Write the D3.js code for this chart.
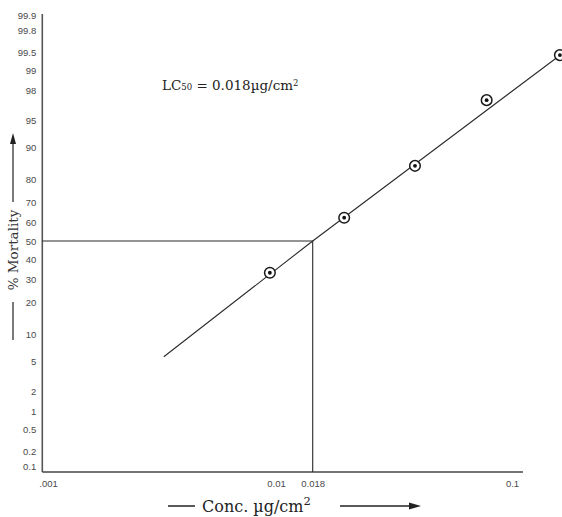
<!DOCTYPE html>
<html>
<head>
<meta charset="utf-8">
<script src="https://cdn.jsdelivr.net/npm/d3@7/dist/d3.min.js"></script>
<style>
  html, body { margin: 0; padding: 0; background: #fff; }
  svg { display: block; }
</style>
</head>
<body>
<svg id="chart" width="562" height="517"></svg>
<script>
// ---------------- data ----------------
const concentrations = [0.0094, 0.0236, 0.0434, 0.0804, 0.151];   // µg/cm²
const mortality      = [33.2, 62.5, 84.8, 97.3, 99.45];            // %
const fitConc        = [0.00322, 0.018, 0.1538];                   // regression line vertices
const fitMortality   = [5.67, 50, 99.48];
const lc50Conc = 0.018;
const lc50Mort = 50;

const yTickValues = [0.1, 0.2, 0.5, 1, 2, 5, 10, 20, 30, 40, 50, 60, 70, 80, 90, 95, 98, 99, 99.5, 99.8, 99.9];
const yTickLabels = ["0.1", "0.2", "0.5", "1", "2", "5", "10", "20", "30", "40", "50", "60", "70", "80", "90", "95", "98", "99", "99.5", "99.8", "99.9"];
const xTickValues = [0.001, 0.01, 0.018, 0.1];
const xTickLabels = [".001", "0.01", "0.018", "0.1"];

// ---------------- helpers ----------------
// inverse standard normal CDF (Acklam)
function probit(pct) {
  const p = pct / 100;
  const a = [-3.969683028665376e+01, 2.209460984245205e+02, -2.759285104469687e+02, 1.383577518672690e+02, -3.066479806614716e+01, 2.506628277459239e+00];
  const b = [-5.447609879822406e+01, 1.615858368580409e+02, -1.556989798598866e+02, 6.680131188771972e+01, -1.328068155288572e+01];
  const c = [-7.784894002430293e-03, -3.223964580411365e-01, -2.400758277161838e+00, -2.549732539343734e+00, 4.374664141464968e+00, 2.938163982698783e+00];
  const d = [7.784695709041462e-03, 3.224671290700398e-01, 2.445134137142996e+00, 3.754408661907416e+00];
  const pl = 0.02425, ph = 1 - pl;
  let q, r;
  if (p < pl) {
    q = Math.sqrt(-2 * Math.log(p));
    return (((((c[0]*q+c[1])*q+c[2])*q+c[3])*q+c[4])*q+c[5]) / ((((d[0]*q+d[1])*q+d[2])*q+d[3])*q+1);
  } else if (p <= ph) {
    q = p - 0.5; r = q * q;
    return (((((a[0]*r+a[1])*r+a[2])*r+a[3])*r+a[4])*r+a[5])*q / (((((b[0]*r+b[1])*r+b[2])*r+b[3])*r+b[4])*r+1);
  } else {
    q = Math.sqrt(-2 * Math.log(1 - p));
    return -(((((c[0]*q+c[1])*q+c[2])*q+c[3])*q+c[4])*q+c[5]) / ((((d[0]*q+d[1])*q+d[2])*q+d[3])*q+1);
  }
}

// ---------------- layout ----------------
const plotLeft = 42.3, plotRight = 523, plotTop = 14, plotBottom = 472;
const svg = d3.select("#chart");
const ink = "#2a2a2a";

// probability (probit) scale on y, piecewise log scale on x (as drawn on the paper)
const yZ = d3.scaleLinear().domain([-3.16, 3.105]).range([plotBottom, plotTop]);
const y = p => yZ(probit(p));
const x = d3.scaleLog().domain(xTickValues).range([48, 276, 312.7, 512]);

// ---------------- axes ----------------
const labelFont = "Liberation Sans, Arial, sans-serif";
const yAxis = d3.axisLeft(yZ)
  .tickValues(yTickValues.map(probit))
  .tickFormat((d, i) => yTickLabels[i])
  .tickSize(0).tickPadding(6);
const gy = svg.append("g").attr("transform", `translate(${plotLeft},0)`).call(yAxis);
gy.select(".domain").remove();
gy.selectAll("text").attr("font-family", labelFont).attr("font-size", 9.5).attr("fill", "#4a4a4a");

const xAxis = d3.axisBottom(x)
  .tickValues(xTickValues)
  .tickFormat((d, i) => xTickLabels[i])
  .tickSize(0).tickPadding(8);
const gx = svg.append("g").attr("transform", `translate(0,${plotBottom})`).call(xAxis);
gx.select(".domain").remove();
gx.selectAll("text").attr("font-family", labelFont).attr("font-size", 9.5).attr("fill", "#4a4a4a");

svg.append("line").attr("x1", plotLeft).attr("x2", plotLeft).attr("y1", plotTop).attr("y2", plotBottom)
  .attr("stroke", "#555").attr("stroke-width", 1.6);
svg.append("line").attr("x1", plotLeft).attr("x2", plotRight).attr("y1", plotBottom).attr("y2", plotBottom)
  .attr("stroke", "#444").attr("stroke-width", 1.6);

// ---------------- LC50 guide lines ----------------
svg.append("path")
  .attr("d", `M${plotLeft},${y(lc50Mort)}H${x(lc50Conc)}V${plotBottom}`)
  .attr("fill", "none").attr("stroke", ink).attr("stroke-width", 1.1);

// ---------------- regression line ----------------
const line = d3.line().x(d => x(d[0])).y(d => y(d[1]));
svg.append("path")
  .datum(fitConc.map((c, i) => [c, fitMortality[i]]))
  .attr("d", line)
  .attr("fill", "none").attr("stroke", ink).attr("stroke-width", 1.1);

// ---------------- observed points ----------------
const pts = svg.append("g").selectAll("g")
  .data(concentrations.map((c, i) => [c, mortality[i]]))
  .join("g")
  .attr("transform", d => `translate(${x(d[0])},${y(d[1])})`);
pts.append("circle").attr("r", 5.3).attr("fill", "#fff").attr("stroke", "#1a1a1a").attr("stroke-width", 1.5);
pts.append("circle").attr("r", 1.9).attr("fill", "#111");

// ---------------- annotation ----------------
const serif = "DejaVu Serif, Liberation Serif, serif";
const ann = svg.append("text").attr("x", 162).attr("y", 90)
  .attr("font-family", serif).attr("font-size", 13.5).attr("fill", "#222");
ann.append("tspan").text("LC");
ann.append("tspan").attr("font-size", 8.5).text("50");
ann.append("tspan").text(" = 0.018µg/cm");
ann.append("tspan").attr("font-size", 8.5).attr("dy", -4).text("2");

// ---------------- y title ----------------
const ytx = 13;
svg.append("text").attr("transform", `translate(${ytx + 5},250) rotate(-90)`)
  .attr("text-anchor", "middle").attr("font-family", serif).attr("font-size", 13.5)
  .attr("fill", "#333").text("% Mortality");
svg.append("line").attr("x1", ytx).attr("x2", ytx).attr("y1", 340).attr("y2", 302)
  .attr("stroke", "#333").attr("stroke-width", 1.3);
svg.append("line").attr("x1", ytx).attr("x2", ytx).attr("y1", 202).attr("y2", 142)
  .attr("stroke", "#333").attr("stroke-width", 1.3);
svg.append("path").attr("d", `M${ytx},133L${ytx - 3},144L${ytx + 3},144Z`).attr("fill", "#222");

// ---------------- x title ----------------
const xty = 506;
svg.append("line").attr("x1", 168).attr("x2", 195).attr("y1", xty).attr("y2", xty)
  .attr("stroke", "#222").attr("stroke-width", 1.5);
const xt = svg.append("text").attr("x", 202).attr("y", xty + 5.5)
  .attr("font-family", serif).attr("font-size", 16).attr("fill", "#222");
xt.append("tspan").text("Conc. µg/cm");
xt.append("tspan").attr("font-size", 11.5).attr("dy", -7).text("2");
svg.append("line").attr("x1", 340).attr("x2", 412).attr("y1", xty).attr("y2", xty)
  .attr("stroke", "#222").attr("stroke-width", 1.5);
svg.append("path").attr("d", `M421,${xty}L409,${xty - 3.5}L409,${xty + 3.5}Z`).attr("fill", "#222");
</script>
</body>
</html>
